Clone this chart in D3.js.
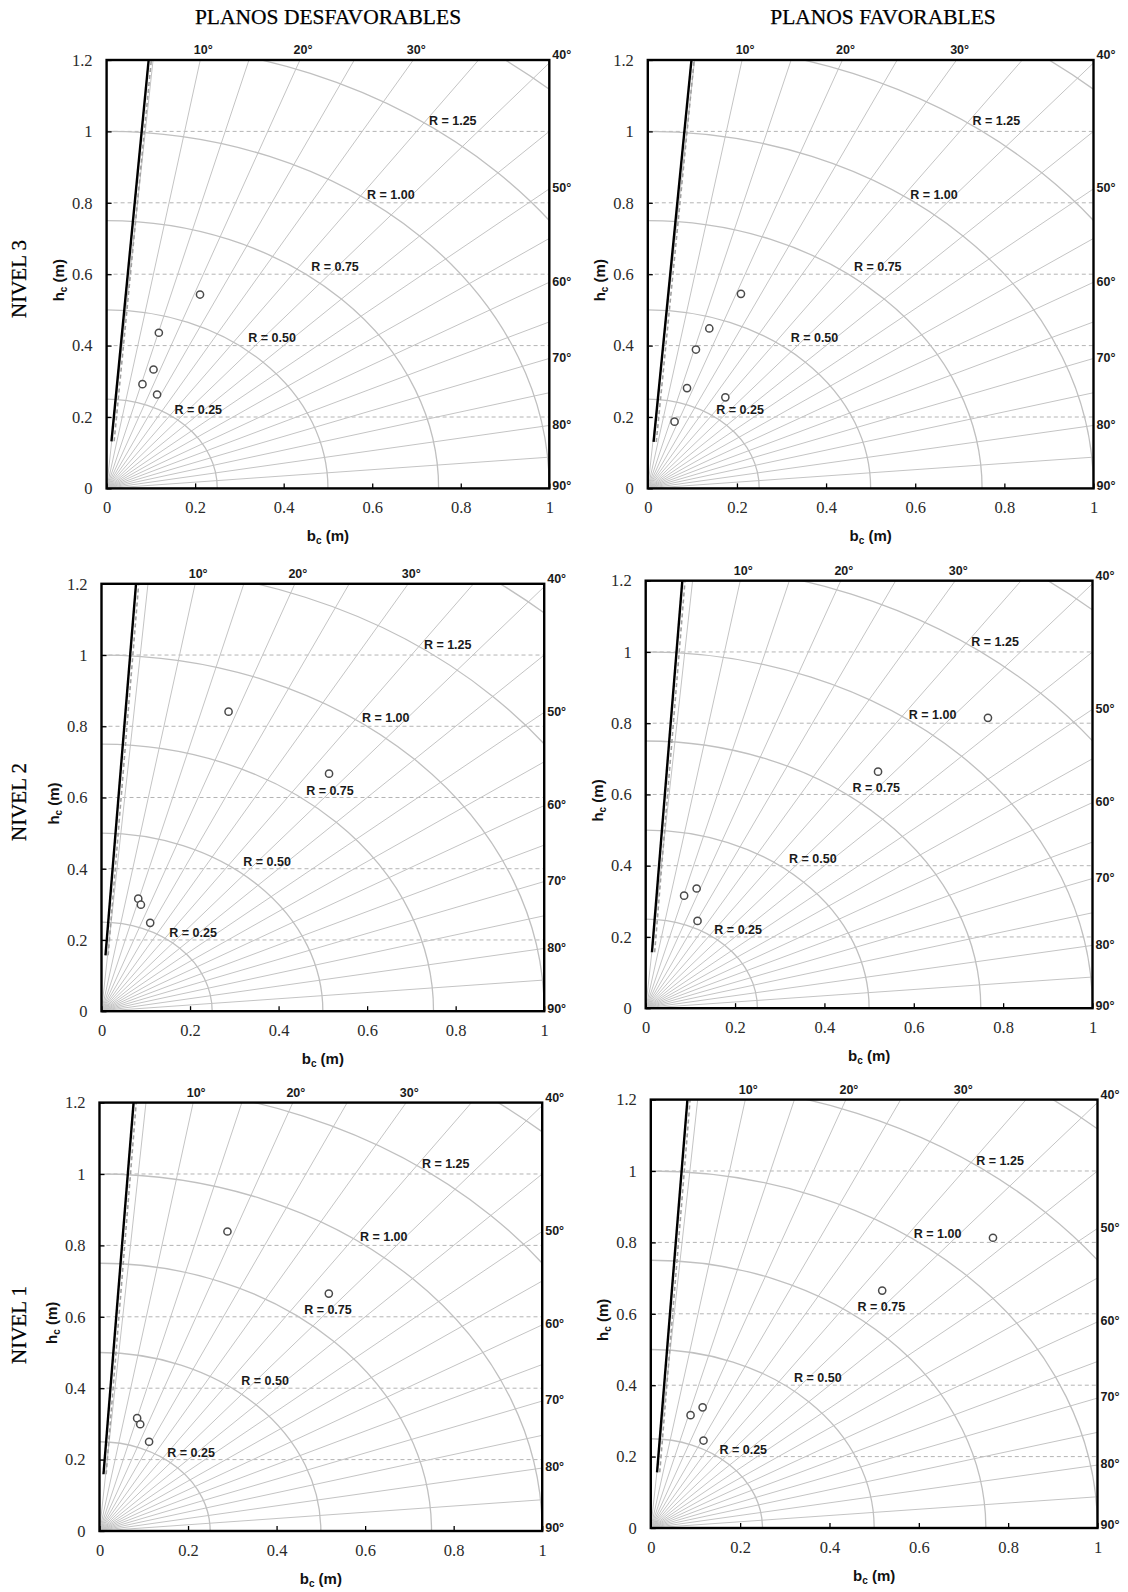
<!DOCTYPE html>
<html><head><meta charset="utf-8">
<script src="https://cdn.jsdelivr.net/npm/d3@7"></script>
<style>body{margin:0;background:#fff}</style>
</head><body>
<svg id="chart" width="1128" height="1592"></svg>
<script>
// ---------- data ----------
const columnTitles = ["PLANOS DESFAVORABLES", "PLANOS FAVORABLES"];
const rowLabels = ["NIVEL 3", "NIVEL 2", "NIVEL 1"];
const xTickValues = [0, 0.2, 0.4, 0.6, 0.8, 1];
const xTickLabels = ["0", "0.2", "0.4", "0.6", "0.8", "1"];
const yTickValues = [0, 0.2, 0.4, 0.6, 0.8, 1, 1.2];
const yTickLabels = ["0", "0.2", "0.4", "0.6", "0.8", "1", "1.2"];
const gridLinesY = [0.2, 0.4, 0.6, 0.8, 1.0];
const arcRadii = [0.25, 0.5, 0.75, 1.0, 1.25, 1.5];
const radialAngles = [5, 10, 15, 20, 25, 30, 35, 40, 45, 50, 55, 60, 65, 70, 75, 80, 85];
const angleLabelValues = [10, 20, 30, 40, 50, 60, 70, 80, 90];
const radiusLabels = ["R = 0.25", "R = 0.50", "R = 0.75", "R = 1.00", "R = 1.25"];
const radiusLabelX = [0.207, 0.374, 0.516, 0.642, 0.782];
const radiusLabelY = [0.220, 0.421, 0.620, 0.824, 1.029];

const pointsDesfN3 = [[0.211,0.543],[0.118,0.436],[0.106,0.333],[0.081,0.292],[0.114,0.263]];
const pointsFavN3  = [[0.209,0.545],[0.138,0.448],[0.108,0.389],[0.088,0.281],[0.174,0.255],[0.060,0.187]];
const pointsDesfN2 = [[0.287,0.841],[0.514,0.667],[0.083,0.316],[0.089,0.299],[0.110,0.248]];
const pointsFavN2  = [[0.766,0.815],[0.520,0.664],[0.114,0.336],[0.086,0.316],[0.116,0.245]];
const pointsDesfN1 = [[0.289,0.839],[0.518,0.665],[0.085,0.316],[0.092,0.299],[0.112,0.250]];
const pointsFavN1  = [[0.766,0.813],[0.518,0.665],[0.116,0.338],[0.089,0.316],[0.118,0.245]];

const limitDesfN3 = [[0.011,0.132],[0.095,1.2]];
const limitFavN3  = [[0.013,0.130],[0.098,1.2]];
const limitDesfN2 = [[0.009,0.157],[0.078,1.2]];
const limitFavN2  = [[0.014,0.157],[0.082,1.2]];
const limitDesfN1 = [[0.009,0.159],[0.077,1.2]];
const limitFavN1  = [[0.014,0.156],[0.082,1.2]];

// ---------- layout ----------
const panels = [
  {row:0, col:0, left:106.6, top:60,    w:442.7, h:428.4, pts:pointsDesfN3, lim:limitDesfN3},
  {row:0, col:1, left:647.8, top:60,    w:445.7, h:428.4, pts:pointsFavN3,  lim:limitFavN3},
  {row:1, col:0, left:101.5, top:583.8, w:442.7, h:427.4, pts:pointsDesfN2, lim:limitDesfN2},
  {row:1, col:1, left:645.7, top:580.7, w:446.8, h:427.5, pts:pointsFavN2,  lim:limitFavN2},
  {row:2, col:0, left:99.5,  top:1102.6,w:442.7, h:428.4, pts:pointsDesfN1, lim:limitDesfN1},
  {row:2, col:1, left:650.8, top:1099.6,w:446.7, h:428.4, pts:pointsFavN1,  lim:limitFavN1}
];
const rowLabelY = [279, 802, 1325];
const colTitleX = [328, 883];

const svg = d3.select("#chart");
const serif = "'Liberation Serif', 'Times New Roman', serif";
const sans = "'Liberation Sans', Arial, sans-serif";

columnTitles.forEach((t, i) => {
  svg.append("text").attr("x", colTitleX[i]).attr("y", 24)
    .attr("text-anchor", "middle").attr("font-family", serif).attr("font-size", 21.5)
    .attr("fill", "#000").attr("stroke", "#000").attr("stroke-width", 0.25).text(t);
});
rowLabels.forEach((t, i) => {
  svg.append("text").attr("transform", `translate(26,${rowLabelY[i]}) rotate(-90)`)
    .attr("text-anchor", "middle").attr("font-family", serif).attr("font-size", 21)
    .attr("fill", "#000").attr("stroke", "#000").attr("stroke-width", 0.25).text(t);
});

const rad = d => d * Math.PI / 180;

panels.forEach((p, pi) => {
  const g = svg.append("g").attr("transform", `translate(${p.left},${p.top})`);
  const x = d3.scaleLinear().domain([0, 1]).range([0, p.w]);
  const y = d3.scaleLinear().domain([0, 1.2]).range([p.h, 0]);
  const clipId = "clip" + pi;
  g.append("clipPath").attr("id", clipId).append("rect")
    .attr("x", 0).attr("y", 0).attr("width", p.w).attr("height", p.h);
  const inner = g.append("g").attr("clip-path", `url(#${clipId})`);

  inner.selectAll(".gy").data(gridLinesY).join("line")
    .attr("x1", x(0)).attr("x2", x(1)).attr("y1", d => y(d)).attr("y2", d => y(d))
    .attr("stroke", "#b4b4b4").attr("stroke-width", 1).attr("stroke-dasharray", "4,3");

  inner.selectAll(".rl").data(radialAngles).join("line")
    .attr("x1", x(0)).attr("y1", y(0))
    .attr("x2", d => x(2 * Math.sin(rad(d)))).attr("y2", d => y(2 * Math.cos(rad(d))))
    .attr("stroke", "#c4c4c4").attr("stroke-width", 1);

  inner.selectAll(".arc").data(arcRadii).join("ellipse")
    .attr("cx", x(0)).attr("cy", y(0))
    .attr("rx", d => x(d) - x(0)).attr("ry", d => y(0) - y(d))
    .attr("fill", "none").attr("stroke", "#c0c0c0").attr("stroke-width", 1.3);

  const line = d3.line().x(d => x(d[0])).y(d => y(d[1]));
  inner.append("path").datum(p.lim.map(d => [d[0] + 0.006, d[1]]))
    .attr("d", line).attr("fill", "none").attr("stroke", "#a0a0a0")
    .attr("stroke-width", 1.6).attr("stroke-dasharray", "4,3");
  inner.append("path").datum(p.lim).attr("d", line).attr("fill", "none")
    .attr("stroke", "#000").attr("stroke-width", 2.4);

  g.selectAll(".rlab").data(radiusLabels).join("text")
    .attr("x", (d, i) => x(radiusLabelX[i])).attr("y", (d, i) => y(radiusLabelY[i]))
    .attr("dy", "0.35em").attr("text-anchor", "middle")
    .attr("font-family", sans).attr("font-weight", "bold").attr("font-size", 12.5)
    .attr("fill", "#1a1a1a").text(d => d);

  g.selectAll(".pt").data(p.pts).join("circle")
    .attr("cx", d => x(d[0])).attr("cy", d => y(d[1])).attr("r", 3.6)
    .attr("fill", "#fff").attr("stroke", "#4a4a4a").attr("stroke-width", 1.5);

  const xAxis = d3.axisBottom(x).tickValues(xTickValues)
    .tickFormat((d, i) => xTickLabels[i]).tickSize(-5).tickPadding(13);
  const gx = g.append("g").attr("transform", `translate(0,${p.h})`).call(xAxis);
  const yAxis = d3.axisLeft(y).tickValues(yTickValues)
    .tickFormat((d, i) => yTickLabels[i]).tickSize(-5).tickPadding(14);
  const gy = g.append("g").call(yAxis);
  [gx, gy].forEach(a => {
    a.select(".domain").remove();
    a.selectAll(".tick line").attr("stroke", "#000").attr("stroke-width", 1.3);
    a.selectAll(".tick text").attr("font-family", serif).attr("font-size", 16.5).attr("fill", "#2a2a2a");
  });

  g.append("rect").attr("x", 0).attr("y", 0).attr("width", p.w).attr("height", p.h)
    .attr("fill", "none").attr("stroke", "#000").attr("stroke-width", 2.4);

  angleLabelValues.forEach(a => {
    const t = Math.tan(rad(a));
    const topX = 1.2 * t;
    const lab = g.append("text").attr("font-family", sans).attr("font-weight", "bold")
      .attr("font-size", 12.5).attr("fill", "#1a1a1a").text(a + "°");
    if (topX < 1) {
      lab.attr("x", x(topX) + 3).attr("y", -6).attr("text-anchor", "middle");
    } else {
      const yy = a >= 90 ? 0 : 1 / t;
      let py = y(yy) - 1;
      if (a === 40) py = -5;
      if (a === 90) py = p.h - 3;
      lab.attr("x", p.w + 3).attr("y", py).attr("dy", "0.35em").attr("text-anchor", "start");
    }
  });

  const bt = g.append("text").attr("x", p.w / 2).attr("y", p.h + 53)
    .attr("text-anchor", "middle").attr("font-family", sans).attr("font-weight", "bold")
    .attr("font-size", 15).attr("fill", "#111");
  bt.append("tspan").text("b");
  bt.append("tspan").attr("font-size", 10).attr("dy", 3).text("c");
  bt.append("tspan").attr("dy", -3).text(" (m)");

  const ht = g.append("text").attr("transform", `translate(-43,${p.h / 2 + 6}) rotate(-90)`)
    .attr("text-anchor", "middle").attr("font-family", sans).attr("font-weight", "bold")
    .attr("font-size", 15).attr("fill", "#111");
  ht.append("tspan").text("h");
  ht.append("tspan").attr("font-size", 10).attr("dy", 3).text("c");
  ht.append("tspan").attr("dy", -3).text(" (m)");
});
</script>
</body></html>
